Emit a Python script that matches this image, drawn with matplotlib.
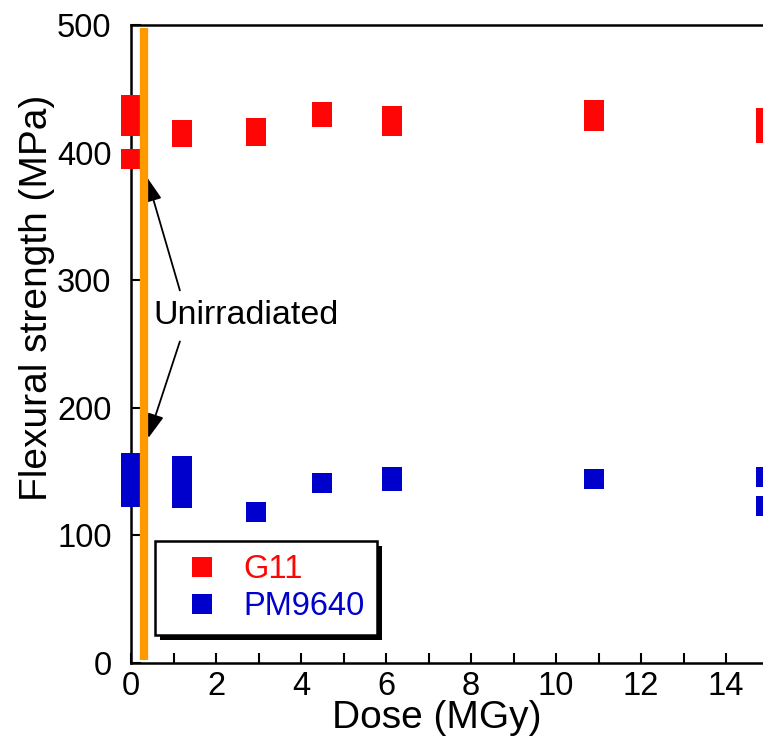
import matplotlib.pyplot as plt
from matplotlib.patches import Rectangle

plt.rcParams['font.family'] = ['Liberation Sans', 'DejaVu Sans']

# G11 flexural strength vs dose (several specimens per dose)
g11_dose = [0, 0, 0, 0, 1.2, 1.2, 2.95, 2.95, 4.5, 4.5, 6.15, 6.15, 10.9, 10.9, 14.95, 14.95]
g11_strength = [437, 428, 421, 395, 418, 412, 419, 413, 432, 428, 429, 421, 433, 425, 427, 415]

# PM9640
pm_dose = [0, 0, 0, 0, 1.2, 1.2, 1.2, 1.2, 2.95, 4.5, 6.15, 6.15, 10.9, 14.95, 14.95]
pm_strength = [157, 148, 137, 130, 154, 145, 137, 129, 118, 141, 146, 143, 144, 146, 123]

unirr_x = 0.3
x_ticks = [0, 2, 4, 6, 8, 10, 12, 14]
y_ticks = [0, 100, 200, 300, 400, 500]

fig = plt.figure(figsize=(7.63, 7.40), dpi=100)
ax = fig.add_axes([131 / 763, 77 / 740, 680 / 763, 638 / 740])

ax.plot(g11_dose, g11_strength, 's', color='#ff0606', markersize=14.8,
        markeredgewidth=0, clip_on=False, label='G11', zorder=3)
ax.plot(pm_dose, pm_strength, 's', color='#0000cc', markersize=14.8,
        markeredgewidth=0, clip_on=False, label='PM9640', zorder=3)

# unirradiated marker line
ax.plot([unirr_x, unirr_x], [2, 498], color='#ff9900', linewidth=6,
        solid_capstyle='butt', zorder=4)

ax.text(2.7, 272, 'Unirradiated', fontsize=24.5, ha='center', va='center')
arrow = dict(arrowstyle='-|>,head_length=1.5,head_width=0.5',
             color='black', lw=1.3, shrinkA=0, shrinkB=0)
ax.annotate('', xy=(0.37, 381), xytext=(1.15, 292), arrowprops=arrow)
ax.annotate('', xy=(0.4, 176), xytext=(1.15, 252), arrowprops=arrow)

ax.set_xlim(0, 16)
ax.set_ylim(0, 500)
ax.set_xticks(x_ticks)
ax.set_xticks(range(0, 16), minor=True)
ax.set_yticks(y_ticks)
ax.tick_params(which='both', direction='in', length=7, width=1.5, labelsize=23.5)
ax.tick_params(axis='x', pad=6)
ax.tick_params(axis='y', pad=14)
for s in ax.spines.values():
    s.set_linewidth(1.8)

ax.set_xlabel('Dose (MGy)', fontsize=28)
ax.set_ylabel('Flexural strength (MPa)', fontsize=28)
ax.xaxis.set_label_coords(0.45, -0.058)
ax.yaxis.set_label_coords(-0.112, 0.573)

leg = ax.legend(loc='lower left', bbox_to_anchor=(155 / 763, 105 / 740),
                bbox_transform=fig.transFigure, borderaxespad=0,
                fancybox=False, edgecolor='black', framealpha=1, fontsize=23.5,
                handlelength=2.1, handletextpad=0.2, borderpad=0.4,
                labelspacing=0.17, markerscale=1.0)
leg.get_frame().set_linewidth(1.8)
leg.get_texts()[0].set_color('#ff0606')
leg.get_texts()[1].set_color('#0000cc')

# solid black drop shadow behind the legend box
fig.canvas.draw()
bb = leg.get_frame().get_window_extent()
shadow = Rectangle((bb.x0 + 5, bb.y0 - 5), bb.width, bb.height, transform=None,
                   facecolor='black', edgecolor='none', zorder=leg.get_zorder() - 0.1,
                   clip_on=False)
ax.add_artist(shadow)

fig.savefig('out.png', dpi=100)
